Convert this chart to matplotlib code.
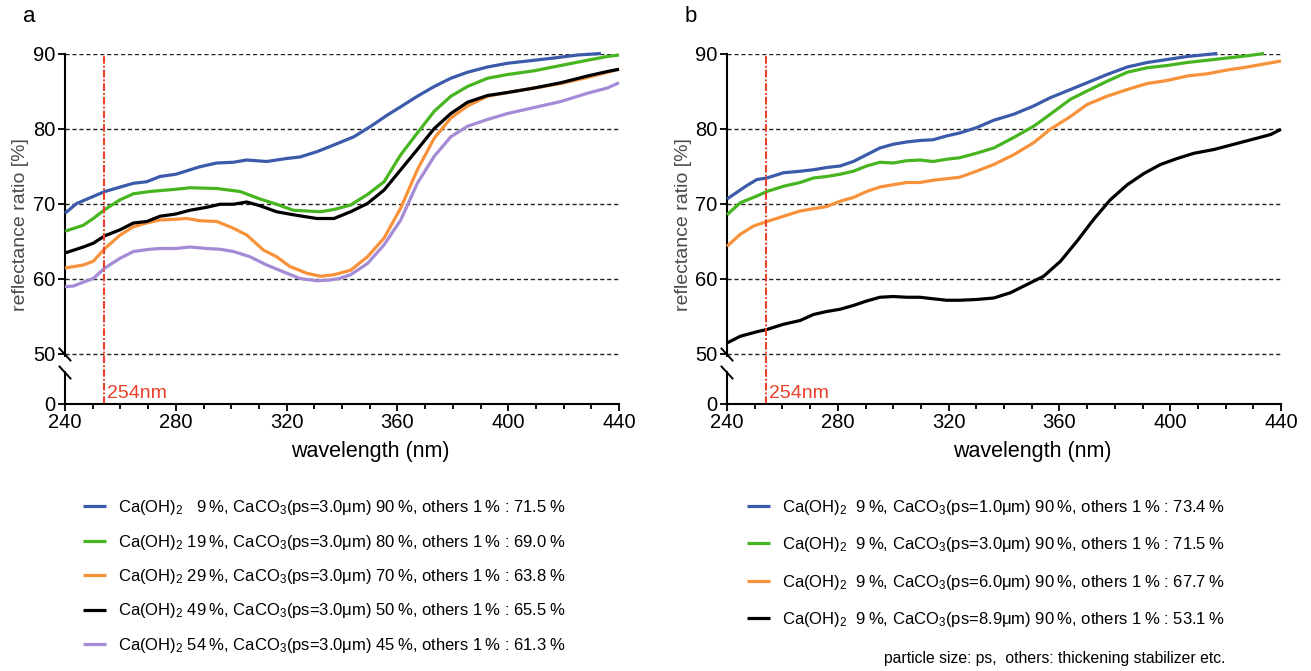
import matplotlib
matplotlib.use("Agg")
import matplotlib.pyplot as plt
from matplotlib.lines import Line2D
import numpy as np

plt.rcParams['font.family'] = ['Liberation Sans', 'DejaVu Sans']
plt.rcParams['mathtext.fontset'] = 'custom'
plt.rcParams['mathtext.rm'] = 'Liberation Sans'
plt.rcParams['mathtext.it'] = 'Liberation Sans:italic'
plt.rcParams['lines.scale_dashes'] = False

# ---------------- data: panel a ----------------
a_blue_x = [240, 244.2, 254.4, 264.7, 269.5, 274.3, 280, 288.7, 294.8, 300.8, 305.6, 312.8, 320, 324.8, 330.9, 335.7,
            344.3, 350.4, 356.4, 361.2, 367.2, 373.3, 379.3, 385.3, 392.5, 399.8, 409.4, 416.6, 425.1, 433.5]
a_blue_y = [68.7, 70.0, 71.6, 72.7, 72.9, 73.6, 73.9, 74.9, 75.4, 75.5, 75.8, 75.6, 76.0, 76.2, 76.9, 77.6,
            78.9, 80.3, 81.8, 82.9, 84.3, 85.6, 86.7, 87.5, 88.2, 88.7, 89.1, 89.4, 89.8, 90.0]

a_green_x = [240, 246.6, 250.2, 254.4, 259.9, 264.7, 270.7, 280, 285.1, 294.8, 303.2, 310.4, 316.4, 322.4, 332.3, 337.1,
             343.1, 349.2, 355.2, 361.2, 367.2, 373.3, 379.3, 385.3, 392.5, 399.8, 409.4, 419, 428.6, 435.8, 440]
a_green_y = [66.3, 67.1, 68.0, 69.2, 70.5, 71.3, 71.6, 71.9, 72.1, 72.0, 71.6, 70.6, 69.9, 69.1, 68.9, 69.2,
             69.8, 71.2, 72.9, 76.5, 79.4, 82.3, 84.3, 85.6, 86.7, 87.2, 87.7, 88.4, 89.1, 89.6, 89.8]

a_orange_x = [240, 246.6, 250.2, 254.4, 259.9, 264.7, 269.5, 274.3, 280, 284, 288.7, 294.8, 300.8, 305.6, 311.6, 316.4,
              321.2, 327.3, 332.3, 337.1, 343.1, 349.2, 355.2, 361.2, 367.2, 373.3, 379.3, 385.3, 392.5, 399.8, 409.4,
              419, 428.6, 435.8, 440]
a_orange_y = [61.4, 61.8, 62.3, 64.0, 65.8, 66.9, 67.4, 67.8, 67.9, 68.0, 67.7, 67.6, 66.7, 65.8, 63.8, 62.9,
              61.6, 60.7, 60.3, 60.5, 61.1, 62.9, 65.4, 69.4, 74.5, 78.7, 81.4, 83.0, 84.3, 84.8, 85.4,
              86.0, 86.8, 87.5, 87.9]

a_black_x = [240, 246.6, 250.2, 254.4, 259.9, 264.7, 269.5, 274.3, 280, 285.1, 291.2, 296, 300.8, 305.6, 310.4, 316.4,
             322.4, 330.9, 337.1, 343.1, 349.2, 355.2, 361.2, 367.2, 373.3, 379.3, 385.3, 392.5, 399.8, 409.4, 419,
             428.6, 435.8, 440]
a_black_y = [63.4, 64.2, 64.7, 65.7, 66.5, 67.4, 67.6, 68.3, 68.6, 69.1, 69.5, 69.9, 69.9, 70.2, 69.7, 68.9,
             68.5, 68.0, 68.0, 68.9, 70.0, 71.8, 74.5, 77.2, 80.0, 82.0, 83.5, 84.4, 84.8, 85.4, 86.1,
             87.0, 87.6, 87.9]

a_purple_x = [240, 243, 250.2, 254.4, 259.9, 264.7, 270.7, 274.3, 280, 285.1, 291.2, 296, 300.8, 306.8, 312.8, 318.8,
              324.8, 330.9, 335.7, 339, 343.1, 349.2, 355.2, 361.2, 367.2, 373.3, 379.3, 385.3, 392.5, 399.8, 409.4,
              419, 428.6, 435.8, 440]
a_purple_y = [58.9, 59.0, 60.0, 61.4, 62.7, 63.6, 63.9, 64.0, 64.0, 64.2, 64.0, 63.9, 63.6, 62.9, 61.8, 60.9,
              60.0, 59.7, 59.8, 60.0, 60.5, 62.0, 64.5, 67.8, 72.7, 76.3, 78.9, 80.3, 81.2, 82.0, 82.8,
              83.6, 84.7, 85.4, 86.1]

# ---------------- data: panel b ----------------
b_blue_x = [240, 243.6, 247.2, 250.8, 254.4, 260.4, 266.4, 271.2, 276, 280.8, 285.6, 290.4, 295.2, 300, 304.8, 309.6,
            314.4, 319.2, 324, 330, 336.3, 343.5, 350.7, 356.7, 364, 370, 377.2, 384.5, 391.7, 398.9, 406.1, 417]
b_blue_y = [70.6, 71.5, 72.4, 73.2, 73.4, 74.1, 74.3, 74.5, 74.8, 75.0, 75.6, 76.5, 77.4, 77.9, 78.2, 78.4,
            78.5, 79.0, 79.4, 80.1, 81.1, 81.9, 83.0, 84.1, 85.2, 86.1, 87.2, 88.2, 88.8, 89.2, 89.6, 90.0]

b_green_x = [240, 244.8, 250.8, 254.4, 260.4, 266.4, 271.2, 276, 280.8, 285.6, 290.4, 295.2, 300, 304.8, 309.6, 314.4,
             319.2, 324, 330, 336.3, 343.5, 350.7, 356.7, 364, 370, 377.2, 384.5, 391.7, 398.9, 406.1, 413.4, 420.6,
             427.8, 433.9]
b_green_y = [68.5, 70.1, 71.0, 71.6, 72.3, 72.8, 73.4, 73.6, 73.9, 74.3, 75.0, 75.5, 75.4, 75.7, 75.8, 75.6,
             75.9, 76.1, 76.7, 77.4, 78.8, 80.3, 81.9, 83.9, 85.0, 86.3, 87.5, 88.1, 88.4, 88.8, 89.1, 89.4,
             89.7, 90.0]

b_orange_x = [240, 244.8, 249.6, 254.4, 260.4, 266.4, 271.2, 276, 280.8, 285.6, 290.4, 295.2, 300, 304.8, 309.6, 314.4,
              319.2, 324, 330, 336.3, 343.5, 350.7, 356.7, 364, 370, 377.2, 384.5, 391.7, 398.9, 406.1, 413.4, 420.6,
              427.8, 433.9, 440]
b_orange_y = [64.3, 65.9, 67.0, 67.6, 68.3, 69.0, 69.3, 69.6, 70.3, 70.8, 71.6, 72.2, 72.5, 72.8, 72.8, 73.1,
              73.3, 73.5, 74.3, 75.2, 76.5, 78.1, 79.9, 81.6, 83.2, 84.3, 85.2, 86.0, 86.4, 87.0, 87.3, 87.8,
              88.2, 88.6, 89.0]

b_black_x = [240, 244.8, 250.8, 254.4, 260.4, 266.4, 271.2, 276, 280.8, 285.6, 290.4, 295.2, 300, 304.8, 309.6, 314.4,
             319.2, 324, 330, 336.3, 342.3, 348.3, 354.3, 360.4, 366.4, 372.4, 378.4, 384.5, 390.5, 396.5, 402.5,
             408.6, 415.8, 423, 430.2, 436.3, 440]
b_black_y = [51.4, 52.3, 52.9, 53.2, 53.9, 54.4, 55.2, 55.6, 55.9, 56.4, 57.0, 57.5, 57.6, 57.5, 57.5, 57.3,
             57.1, 57.1, 57.2, 57.4, 58.1, 59.2, 60.3, 62.3, 65.0, 67.9, 70.5, 72.5, 74.0, 75.2, 76.0,
             76.7, 77.2, 77.9, 78.6, 79.2, 79.9]

T = "\u2009"
a_labels = [
    r"Ca(OH)$_2$   9" + T + "%, CaCO$_3$(ps=3.0μm) 90" + T + "%, others 1" + T + "% : 71.5" + T + "%",
    r"Ca(OH)$_2$ 19" + T + "%, CaCO$_3$(ps=3.0μm) 80" + T + "%, others 1" + T + "% : 69.0" + T + "%",
    r"Ca(OH)$_2$ 29" + T + "%, CaCO$_3$(ps=3.0μm) 70" + T + "%, others 1" + T + "% : 63.8" + T + "%",
    r"Ca(OH)$_2$ 49" + T + "%, CaCO$_3$(ps=3.0μm) 50" + T + "%, others 1" + T + "% : 65.5" + T + "%",
    r"Ca(OH)$_2$ 54" + T + "%, CaCO$_3$(ps=3.0μm) 45" + T + "%, others 1" + T + "% : 61.3" + T + "%",
]
b_labels = [
    r"Ca(OH)$_2$  9" + T + "%, CaCO$_3$(ps=1.0μm) 90" + T + "%, others 1" + T + "% : 73.4" + T + "%",
    r"Ca(OH)$_2$  9" + T + "%, CaCO$_3$(ps=3.0μm) 90" + T + "%, others 1" + T + "% : 71.5" + T + "%",
    r"Ca(OH)$_2$  9" + T + "%, CaCO$_3$(ps=6.0μm) 90" + T + "%, others 1" + T + "% : 67.7" + T + "%",
    r"Ca(OH)$_2$  9" + T + "%, CaCO$_3$(ps=8.9μm) 90" + T + "%, others 1" + T + "% : 53.1" + T + "%",
]
y_ticks = [50, 60, 70, 80, 90]
x_ticks = [240, 280, 320, 360, 400, 440]
marker_nm = 254

BLUE, GREEN, ORANGE, BLACK, PURPLE = '#3b5aa9', '#47b520', '#f7923a', '#000000', '#a58ad6'
RED = '#e8402a'

W, H = 1311, 671
fig = plt.figure(figsize=(W / 100, H / 100), dpi=100)


def rect(x0, y0, x1, y1):
    return [x0 / W, 1 - y1 / H, (x1 - x0) / W, (y1 - y0) / H]


Y90, Y50, YTOPBOT, YLOWTOP, Y0 = 53.5, 353.5, 359.0, 371.0, 403.5
per10 = (Y50 - Y90) / 4.0          # pixels per 10 units
ylow = 50 - 10.0 * (YTOPBOT - Y50) / per10


def make_panel(x0, x1, series, labels, letter, leg_x, leg_y, leg_spacing):
    ax = fig.add_axes(rect(x0, Y90, x1, YTOPBOT))
    axl = fig.add_axes(rect(x0, YLOWTOP, x1, Y0))
    for a in (ax, axl):
        a.set_xlim(240, 440)
        a.spines['top'].set_visible(False)
        a.spines['right'].set_visible(False)
        a.spines['left'].set_linewidth(1.5)
        a.spines['bottom'].set_linewidth(1.5)
        a.tick_params(axis='both', which='both', direction='out', width=1.3, labelsize=14.5, pad=2)
        a.tick_params(axis='both', which='major', length=5)
        a.tick_params(axis='x', which='minor', length=3.5)
        a.patch.set_alpha(0)
    ax.spines['bottom'].set_visible(False)
    ax.set_ylim(ylow, 90)
    ax.set_yticks(y_ticks)
    ax.set_xticks([])
    ax.yaxis.grid(True, color='#222222', lw=1.0, linestyle=(0, (3, 2)))
    axl.set_ylim(0, 1)
    axl.set_yticks([0])
    axl.set_xticks(x_ticks)
    axl.set_xticks(np.arange(240, 441, 10), minor=True)

    handles = []
    for (xs, ys, c) in series:
        ln, = ax.plot(xs, ys, color=c, lw=2.3, solid_capstyle='butt', clip_on=False, zorder=3)
        handles.append(ln)

    ymin_frac = -(Y0 - YTOPBOT) / (YTOPBOT - Y90)
    ax.axvline(marker_nm, ymin=ymin_frac, ymax=1, color=RED, lw=1.5,
               dashes=(5.5, 1.5, 1.3, 1.5), clip_on=False, zorder=4)
    axl.text(marker_nm + 1.3, 0.32, f"{marker_nm}nm", color=RED, fontsize=14,
             ha='left', va='center', transform=axl.get_xaxis_transform())

    # axis break marks: white gap on the spine plus two slashes
    fig.add_artist(Line2D([x0 / W, x0 / W], [1 - 359 / H, 1 - 369 / H], color='white', lw=3))
    for yc in (354.5, 372.5):
        fig.add_artist(Line2D([(x0 - 5.5) / W, (x0 + 5.5) / W],
                              [1 - (yc - 6) / H, 1 - (yc + 6) / H],
                              color='black', lw=1.4))

    fig.text((x0 + x1) / 2 / W + 28 / W, 1 - 451 / H, "wavelength (nm)", fontsize=15.5,
             ha='center', va='center')
    fig.text((x0 - 44) / W, 1 - 225 / H, "reflectance ratio [%]", fontsize=14, color='#4a4a4a',
             rotation=90, ha='center', va='center')
    fig.text((x0 - 36) / W, 1 - 17 / H, letter, fontsize=16, ha='center', va='center')

    fig.legend(handles=handles, labels=labels, loc='upper left',
               bbox_to_anchor=(leg_x / W, 1 - leg_y / H), frameon=False, fontsize=12.0,
               handlelength=1.4, handletextpad=0.67, labelspacing=leg_spacing,
               borderpad=0, borderaxespad=0)
    return ax


make_panel(65, 619,
           [(a_blue_x, a_blue_y, BLUE), (a_green_x, a_green_y, GREEN), (a_orange_x, a_orange_y, ORANGE),
            (a_black_x, a_black_y, BLACK), (a_purple_x, a_purple_y, PURPLE)],
           a_labels, 'a', 83, 498, 0.93)
make_panel(727, 1281,
           [(b_blue_x, b_blue_y, BLUE), (b_green_x, b_green_y, GREEN), (b_orange_x, b_orange_y, ORANGE),
            (b_black_x, b_black_y, BLACK)],
           b_labels, 'b', 747, 498, 1.1)

fig.text(1225 / W, 1 - 658 / H, "particle size: ps,  others: thickening stabilizer etc.",
         fontsize=11.3, ha='right', va='center')

fig.savefig("out.png", dpi=100)
